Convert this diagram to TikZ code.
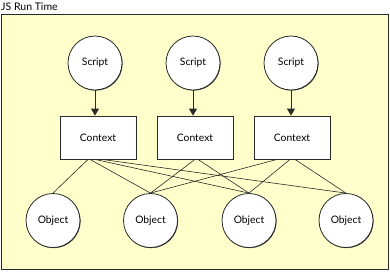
\documentclass[tikz,border=0pt]{standalone}
\usepackage{fontspec}
\setmainfont{Lato}
\usetikzlibrary{shadows,arrows.meta}
\definecolor{bgyellow}{HTML}{FFFFCC}
\definecolor{ink}{HTML}{2A2A2A}
\begin{document}
\begin{tikzpicture}[x=1pt,y=-1pt,
  circ/.style={circle,draw=ink,line width=0.8pt,fill=white,minimum size=54pt,inner sep=0pt,font=\fontsize{10.3}{11}\selectfont,
    general shadow={shadow xshift=0.6pt,shadow yshift=-0.6pt,fill=ink}},
  ctx/.style={rectangle,draw=ink,line width=0.8pt,fill=white,minimum width=76pt,minimum height=43pt,inner sep=0pt,font=\fontsize{10.3}{11}\selectfont,
    general shadow={shadow xshift=1.2pt,shadow yshift=-1.2pt,fill=ink}},
  link/.style={draw=ink,line width=0.6pt},
  arr/.style={draw=ink,line width=0.8pt,-{Triangle[length=7pt,width=8pt]}}]
\useasboundingbox (0,0) rectangle (390,271);
\fill[white] (0,0) rectangle (390,271);
\draw[ink,line width=1pt,fill=bgyellow] (1.5,14.5) rectangle (388.5,269.5);
\node[anchor=base west,inner sep=0pt,font=\fontsize{10.5}{11}\selectfont] (title) at (1,10.5) {JS Run Time};
% scripts
\node[circ] (s1) at (95,63) {Script};
\node[circ] (s2) at (193,63) {Script};
\node[circ] (s3) at (291,63) {Script};
% contexts
\node[ctx] (c1) at (98,137.5) {Context};
\node[ctx] (c2) at (195,137.5) {Context};
\node[ctx] (c3) at (292,137.5) {Context};
% objects
\node[circ] (o1) at (53,220.5) {Object};
\node[circ] (o2) at (150.5,220.5) {Object};
\node[circ] (o3) at (249,220.5) {Object};
\node[circ] (o4) at (346,220.5) {Object};
% arrows
\draw[arr] (s1.south) -- (s1.south |- c1.north);
\draw[arr] (s2.south) -- (s2.south |- c2.north);
\draw[arr] (s3.south) -- (s3.south |- c3.north);
% links
\draw[link] ([xshift=-10pt]c1.south) -- (o1.north);
\draw[link] ([xshift=-8pt]c1.south) -- (o2.north);
\draw[link] ([xshift=-3pt]c1.south) -- (o3.north);
\draw[link] ([xshift=4pt]c1.south) -- (o4.north);
\draw[link] (c2.south) -- (o2.north);
\draw[link] ([xshift=3pt]c2.south) -- (o3.north);
\draw[link] ([xshift=-15pt]c3.south) -- (o2.north);
\draw[link] ([xshift=-2pt]c3.south) -- (o3.north);
\draw[link] ([xshift=3pt]c3.south) -- (o4.north);
\end{tikzpicture}
\end{document}
